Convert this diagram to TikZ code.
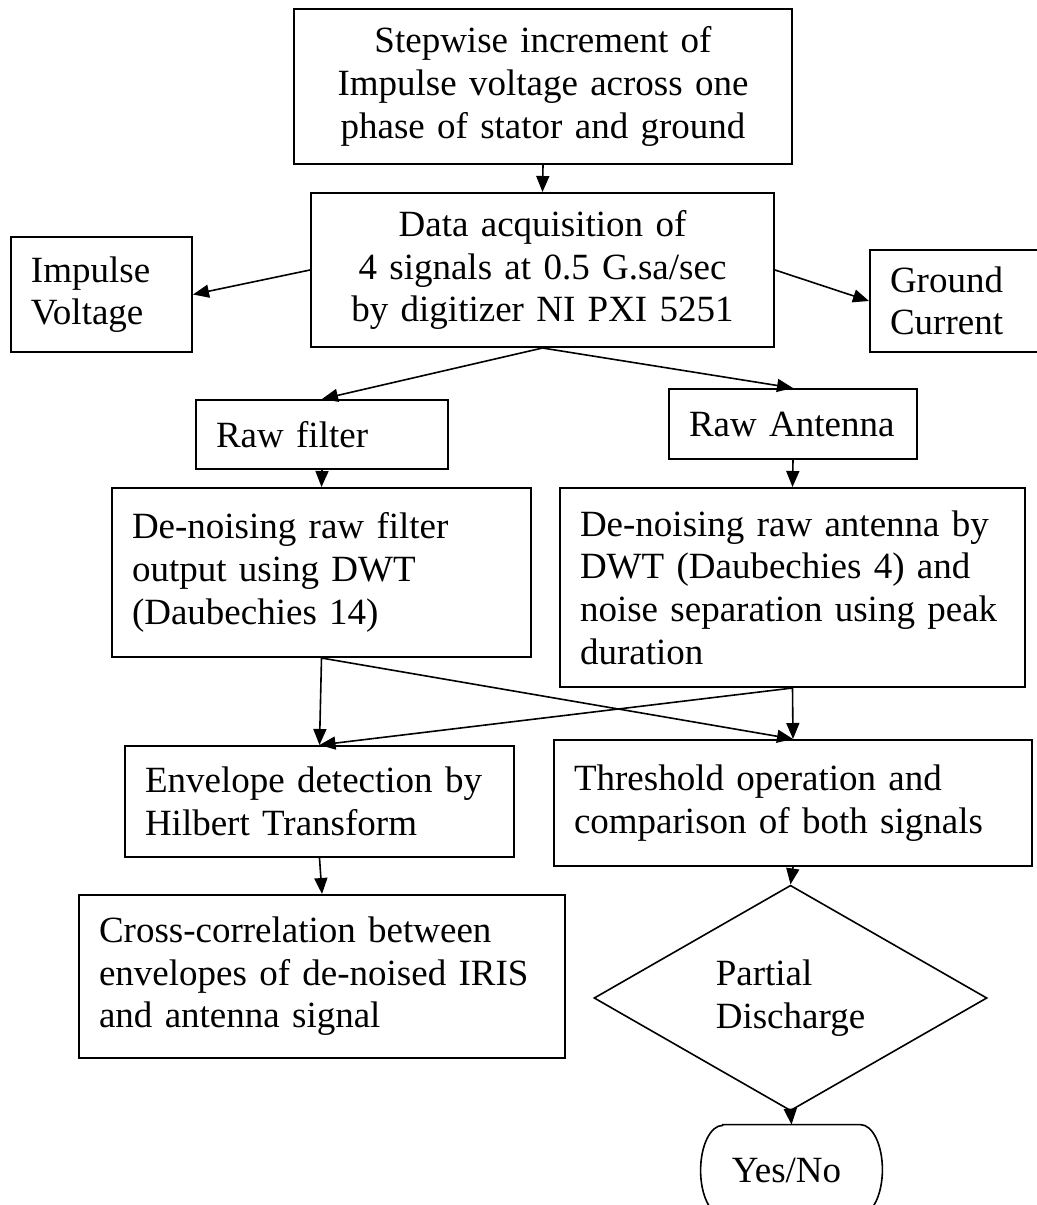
\documentclass[tikz,border=0pt]{standalone}
\usepackage{fontspec}
\setmainfont{Liberation Serif}
\usetikzlibrary{arrows.meta,shapes.geometric}

\tikzset{
  pbox/.style 2 args={draw, rectangle, line width=1pt, inner xsep=10pt, inner ysep=0pt,
    text width=#1, minimum height=#2, align=left},
  cbox/.style 2 args={pbox={#1}{#2}, align=center},
  decision/.style={draw, diamond, line width=0.8pt, inner sep=0pt, align=left},
  arr/.style={-{Triangle[length=8pt,width=6.5pt]}, line width=0.8pt},
}

\begin{document}
\begin{tikzpicture}[x=0.5pt, y=-0.5pt, font=\fontsize{18.5pt}{21.3pt}\selectfont]
\useasboundingbox (0,0) rectangle (1037,1205);
\clip (0,0) rectangle (1037,1205);

% process boxes
\node[cbox={229pt}{77.5pt}] (step) at (543,86.5)
  {Stepwise increment of\\Impulse voltage across one\\phase of stator and ground};
\node[cbox={211.5pt}{77pt}] (daq) at (542.5,270)
  {Data acquisition of\\4 signals at 0.5 G.sa/sec\\by digitizer NI PXI 5251};
\node[pbox={70.5pt}{57.5pt}] (imp) at (101.5,294.5) {Impulse\\Voltage};
\node[pbox={67.5pt}{51pt}] (gnd) at (957.5,301) {Ground\\Current};
\node[pbox={106pt}{34.5pt}] (rawf) at (322,434.5) {Raw filter};
\node[pbox={104pt}{35pt}] (rawa) at (793,424) {Raw Antenna};
\node[pbox={189.5pt}{84.5pt}] (dnf) at (321.5,572.5)
  {De-noising raw filter\\output using DWT\\(Daubechies 14)};
\node[pbox={212.5pt}{99.5pt}] (dna) at (792.5,587.5)
  {De-noising raw antenna by\\DWT (Daubechies 4) and\\noise separation using peak\\duration};
\node[pbox={174.5pt}{55.5pt}] (env) at (319.5,801.5)
  {Envelope detection by\\Hilbert Transform};
\node[pbox={219pt}{63pt}] (thr) at (793,803)
  {Threshold operation and\\comparison of both signals};
\node[pbox={223pt}{81.5pt}] (xcor) at (322,976.5)
  {Cross-correlation between\\envelopes of de-noised IRIS\\and antenna signal};

% decision and terminator
\node[decision, minimum width=196.5pt, minimum height=107pt] (pd) at (790.5,998)
  {Partial\\Discharge};
\node[minimum width=90.5pt, minimum height=45pt, inner sep=0pt] (yn) at (791.5,1170)
  {\hspace*{-5pt}Yes/No};
\draw[line width=0.8pt] ([xshift=11pt]yn.north west) -- ([xshift=-11pt]yn.north east)
  arc[start angle=90, end angle=-90, x radius=11pt, y radius=22.5pt]
  -- ([xshift=11pt]yn.south west)
  arc[start angle=270, end angle=90, x radius=11pt, y radius=22.5pt] -- cycle;

% connectors
\draw[arr] (step.south) -- (daq.north);
\draw[arr] (daq.west) -- (imp.east);
\draw[arr] (daq.east) -- (gnd.west);
\draw[arr] (daq.south) -- (rawf.north);
\draw[arr] (daq.south) -- (rawa.north);
\draw[arr] (rawf.south) -- (dnf.north);
\draw[arr] (rawa.south) -- (dna.north);
\draw[arr] (dnf.south) -- (env.north);
\draw[arr] (dnf.south) -- (thr.north);
\draw[arr] (dna.south) -- (thr.north);
\draw[arr] (dna.south) -- (env.north);
\draw[arr] (env.south) -- (xcor.north);
\draw[arr] (thr.south) -- (pd.north);
\draw[arr] (pd.south) -- (yn.north);
\end{tikzpicture}
\end{document}
